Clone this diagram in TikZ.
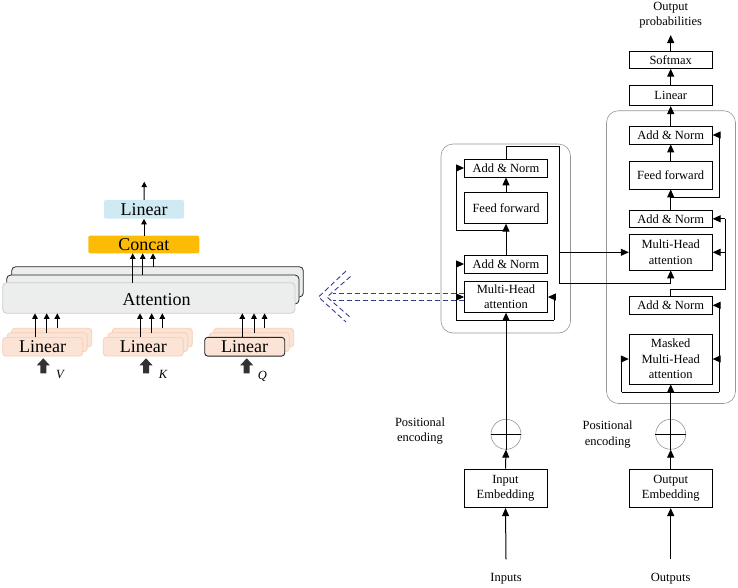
\documentclass[tikz,border=0pt]{standalone}
\usepackage{fontspec}
\setmainfont{Liberation Serif}
\usetikzlibrary{arrows.meta}
\definecolor{framegray}{RGB}{150,150,150}
\definecolor{attfill}{RGB}{236,237,237}
\definecolor{attedge}{RGB}{205,205,205}
\definecolor{linfill}{RGB}{251,228,213}
\definecolor{linedge}{RGB}{243,206,184}
\definecolor{concatfill}{RGB}{252,187,6}
\definecolor{linblue}{RGB}{207,234,243}
\definecolor{dashblue}{RGB}{50,62,140}
\definecolor{bigarr}{RGB}{50,50,50}
\begin{document}
\begin{tikzpicture}[x=1pt,y=-1pt,
  box/.style={draw, line width=0.8pt, fill=white, inner sep=0pt, align=center,
    font=\fontsize{12.5}{15.3}\selectfont, minimum width=83pt},
  arr/.style={line width=1pt, -{Triangle[length=8pt,width=7pt]}},
  ln/.style={line width=1pt},
  frame/.style={draw=framegray, line width=0.6pt, rounded corners=12pt},
  lbl/.style={align=center, font=\fontsize{12.5}{15.3}\selectfont, inner sep=0pt},
  big/.style={font=\fontsize{18}{20}\selectfont, inner sep=0pt},
  sarr/.style={line width=1pt, -{Triangle[length=5.5pt,width=5.5pt]}},
  attback/.style={draw=black!85, fill=attfill, line width=0.8pt, rounded corners=4pt},
  linback/.style={draw=linedge, fill=linfill, line width=0.7pt, rounded corners=3pt},
  linfront/.style={draw=linedge, fill=linfill, line width=0.7pt, rounded corners=3pt,
    minimum width=80pt, minimum height=18.7pt, inner sep=0pt, big},
  dsh/.style={draw=dashblue, line width=0.9pt, dash pattern=on 5pt off 3pt},
  bigup/.pic={\fill[bigarr] (-3,15) -- (-3,7) -- (-6.5,7) -- (0,0) -- (6.5,7) -- (3,7) -- (3,15) -- cycle;}
]
\useasboundingbox (0,0) rectangle (738,587);

% ================= LEFT: multi-head attention =================
\node[fill=linblue, rounded corners=2pt, minimum width=80pt, minimum height=18.7pt, big] (lin) at (144,209.3) {Linear};
\node[fill=concatfill, rounded corners=2pt, minimum width=111pt, minimum height=17.6pt, big] (cat) at (143.8,244.5) {Concat};
\coordinate (topout) at (144.3,181.7);
\draw[sarr] (lin.north) -- (topout);
\draw[sarr] (cat.north -| lin.north) -- (lin.south);

\draw[attback] (11.7,266.7) rectangle (303.3,297);
\draw[attback] (6.7,275) rectangle (299,304);
\node[draw=attedge, fill=attfill, rounded corners=4pt, line width=0.8pt, minimum width=292.3pt, minimum height=30.6pt, inner sep=0pt] (att) at (148.85,298) {};
\node[big] (attT) at (156.7,299.5) {Attention};

\draw[sarr] (132.7,282.7) -- (132.7,253.3);
\draw[sarr] (142.7,275) -- (142.7,253.3);
\draw[sarr] (153,266.7) -- (153,253.3);

\foreach \x in {2.7,103.3,204.7} {
  \draw[linback] (\x+9,328.3) rectangle (\x+89,347);
  \draw[linback] (\x+4.5,332.8) rectangle (\x+84.5,351.5);
}
\node[linfront] (linV) at (42.7,346.7) {Linear};
\node[linfront] (linK) at (143.3,346.7) {Linear};
\node[linfront, draw=black!85, line width=0.9pt] (linQ) at (244.7,346.7) {Linear};

\foreach \a in {35,140,242.3} {
  \draw[sarr] (\a,337.3) -- (\a,313.3);
  \draw[sarr] (\a+11.7,333.3) -- (\a+11.7,313.3);
  \draw[sarr] (\a+22.3,328.3) -- (\a+22.3,313.3);
}
\pic at (43.3,358.3) {bigup};
\pic at (146,358.3) {bigup};
\pic at (246.7,358.3) {bigup};
\node[lbl, font=\fontsize{12.5}{15}\selectfont\itshape] (lV) at (60,374) {V};
\node[lbl, font=\fontsize{12.5}{15}\selectfont\itshape] (lK) at (163,374) {K};
\node[lbl, font=\fontsize{12.5}{15}\selectfont\itshape] (lQ) at (262.5,376) {Q};

% ================= dashed double arrow =================
\draw[dsh] (463.5,293.3) -- (333,293.3);
\draw[dsh] (463.5,300.7) -- (333,300.7);
\draw[dsh] (346,271) -- (318.5,297) -- (346,322);
\draw[dsh] (350.5,276.5) -- (327,297) -- (350.5,317.5);

% ================= ENCODER =================
\draw[frame] (441,144) rectangle (570.5,333);
\node[box, minimum height=18pt] (eAN2) at (506,168) {Add \& Norm};
\node[box, minimum height=30.5pt] (eFF) at (506,208) {Feed forward};
\node[box, minimum height=18pt] (eAN1) at (506,264) {Add \& Norm};
\node[box, minimum height=30.5pt] (eMHA) at (506,297) {Multi-Head\\attention};

\node[draw=framegray, line width=0.6pt, circle, minimum size=30pt, inner sep=0pt] (eAdd) at (506,434.3) {};
\draw[line width=0.8pt] (eAdd.west) -- (eAdd.east);
\node[box, minimum height=38.7pt] (eEmb) at (505.5,488.3) {Input\\Embedding};
\node[lbl] (inputs) at (506,579) {Inputs};
\coordinate (inStart) at (506,559.3);
\node[lbl] (ePos) at (420,430.8) {Positional\\encoding};

\draw[arr] (inStart) -- (eEmb.south);
\draw[arr] (eEmb.north) -- (eAdd.south);
\draw[arr] (eAdd.south) -- (eMHA.south);
\draw[ln] (456,320) -- (554.3,320);
\draw[ln] (456,320) -- (456,264);
\draw[arr] (456,264) -- (eAN1.west);
\draw[arr] (456,297) -- (eMHA.west);
\draw[ln] (554.3,320) -- (554.3,297);
\draw[arr] (554.3,297) -- (eMHA.east);
\draw[arr] (eAN1.north) -- (eFF.south);
\draw[ln] (506,230) -- (456,230) -- (456,168);
\draw[arr] (456,168) -- (eAN2.west);
\draw[arr] (eFF.north) -- (eAN2.south);

% ================= DECODER =================
\draw[frame] (606.5,110.7) rectangle (735.5,403.5);
\node[lbl] (outprob) at (670.7,15) {Output\\probabilities};
\node[box, minimum height=16.6pt] (soft) at (670.7,60) {Softmax};
\node[box, minimum height=20.7pt] (dLin) at (670.7,95.3) {Linear};
\node[box, minimum height=18pt] (dAN3) at (670.7,135) {Add \& Norm};
\node[box, minimum height=28pt] (dFF) at (670.7,175) {Feed forward};
\node[box, minimum height=17.7pt] (dAN2) at (670.7,218.8) {Add \& Norm};
\node[box, minimum height=35.3pt] (dMHA) at (670.7,252.3) {Multi-Head\\attention};
\node[box, minimum height=17.3pt] (dAN1) at (670.7,305.3) {Add \& Norm};
\node[box, minimum height=50pt] (dMMHA) at (670.7,359) {Masked\\Multi-Head\\attention};

\node[draw=framegray, line width=0.6pt, circle, minimum size=30pt, inner sep=0pt] (dAdd) at (670.7,434.3) {};
\draw[line width=0.8pt] (dAdd.west) -- (dAdd.east);
\node[box, minimum height=38.7pt] (dEmb) at (670.7,488.3) {Output\\Embedding};
\node[lbl] (outputs) at (670.7,579) {Outputs};
\coordinate (outStart) at (670.7,559.3);
\node[lbl] (dPos) at (607.7,434.5) {Positional\\encoding};
\coordinate (probEnd) at (670.7,35);

\draw[arr] (outStart) -- (dEmb.south);
\draw[arr] (dEmb.north) -- (dAdd.south);
\draw[arr] (dAdd.south) -- (dMMHA.south);
\draw[ln] (621.7,392.3) -- (719.3,392.3);
\draw[ln] (621.7,392.3) -- (621.7,359);
\draw[arr] (621.7,359) -- (dMMHA.west);
\draw[ln] (719.3,392.3) -- (719.3,305.3);
\draw[arr] (719.3,359) -- (dMMHA.east);
\draw[arr] (719.3,305.3) -- (dAN1.east);

\draw[ln] (dAN1.north) -- (670.7,289.3) -- (725,289.3) -- (725,218.8);
\draw[arr] (725,218.8) -- (dAN2.east);
\draw[arr] (725,252.3) -- (dMHA.east);

\draw[arr] (dAN2.north) -- (dFF.south);
\draw[ln] (670.7,197.3) -- (719.3,197.3) -- (719.3,135);
\draw[arr] (719.3,135) -- (dAN3.east);
\draw[arr] (dFF.north) -- (dAN3.south);
\draw[arr] (dAN3.north) -- (dLin.south);
\draw[arr] (dLin.north) -- (soft.south);
\draw[arr] (soft.north) -- (probEnd);

% encoder -> decoder
\draw[ln] (eAN2.north) -- (506,146) -- (559,146) -- (559,283) -- (670.7,283);
\draw[arr] (670.7,283) -- (dMHA.south);
\draw[arr] (559,252.3) -- (dMHA.west);
\end{tikzpicture}
\end{document}
